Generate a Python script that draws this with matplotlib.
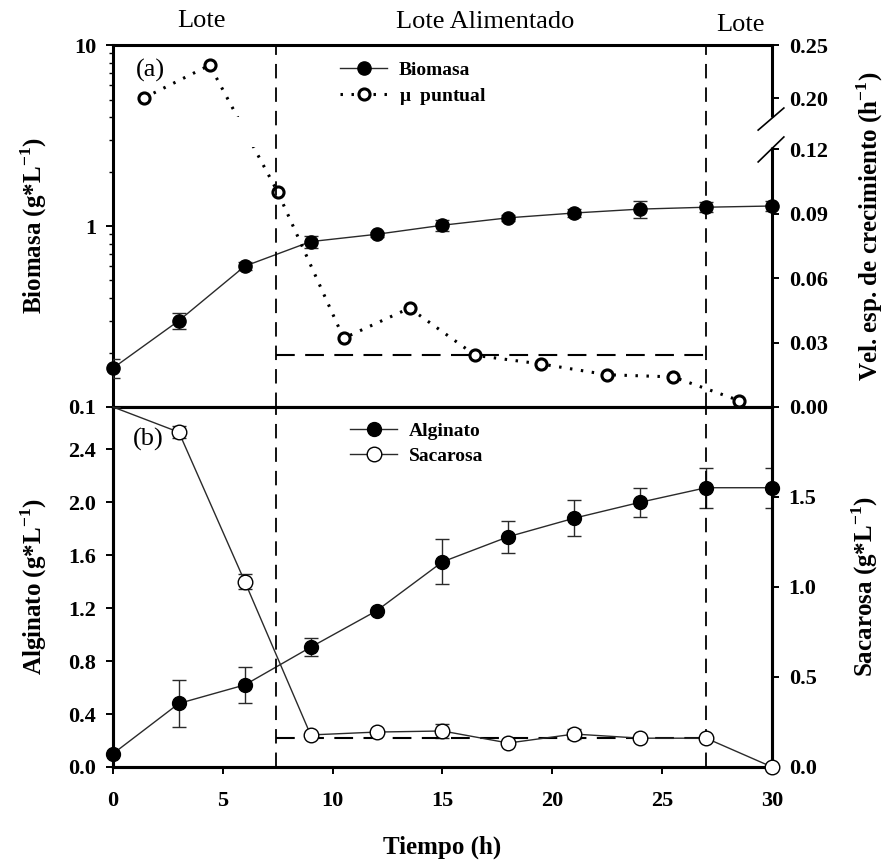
import matplotlib
matplotlib.use("Agg")
import matplotlib.pyplot as plt
import numpy as np
from matplotlib.lines import Line2D
from matplotlib.patches import Rectangle

plt.rcParams['font.family'] = ['Liberation Serif', 'DejaVu Serif']
plt.rcParams['mathtext.fontset'] = 'custom'
plt.rcParams['mathtext.rm'] = 'Liberation Serif:bold'
plt.rcParams['mathtext.bf'] = 'Liberation Serif:bold'

# --- data ---
t = [0, 3, 6, 9, 12, 15, 18, 21, 24, 27, 30]
biomasa = [0.164, 0.30, 0.60, 0.82, 0.90, 1.01, 1.11, 1.18, 1.24, 1.27, 1.29]
biomasa_err = [0.02, 0.03, 0.03, 0.06, 0.03, 0.07, 0.04, 0.06, 0.13, 0.08, 0.08]

t_mu = [1.4, 4.4, 7.5, 10.5, 13.5, 16.5, 19.5, 22.5, 25.5, 28.5]
mu = [0.200, 0.231, 0.100, 0.032, 0.046, 0.024, 0.020, 0.015, 0.014, 0.003]

alginato = [0.10, 0.48, 0.62, 0.905, 1.18, 1.55, 1.74, 1.88, 2.00, 2.11, 2.11]
alginato_err = [0.0, 0.18, 0.135, 0.07, 0.0, 0.17, 0.12, 0.135, 0.11, 0.15, 0.15]

sacarosa = [2.0, 1.86, 1.03, 0.178, 0.194, 0.20, 0.133, 0.183, 0.16, 0.16, 0.0]
sacarosa_err = [0.0, 0.035, 0.04, 0.0, 0.0, 0.04, 0.0, 0.03, 0.0, 0.0, 0.0]

t_inicio, t_fin = 7.4, 27.0     # fed-batch phase limits
mu_medio = 0.024                # mean mu in fed-batch
sac_medio = 0.16                # mean sucrose in fed-batch

# broken right axis of panel (a): 0-0.12 then 0.20-0.25
mu_knots = [0.0, 0.12, 0.20, 0.25]
px_knots = [0.0, 258.0, 309.0, 362.0]


def fwd(v):
    v = np.asarray(v, float)
    out = np.interp(v, mu_knots, px_knots)
    out = np.where(v < 0, v * 2150.0, out)
    out = np.where(v > 0.25, 362.0 + (v - 0.25) * 1060.0, out)
    return out


def inv(p):
    p = np.asarray(p, float)
    out = np.interp(p, px_knots, mu_knots)
    out = np.where(p < 0, p / 2150.0, out)
    out = np.where(p > 362.0, 0.25 + (p - 362.0) / 1060.0, out)
    return out


fig = plt.figure(figsize=(8.84, 8.61), dpi=100)
ax1 = fig.add_axes([0.1278, 0.5273, 0.7455, 0.4204])
ax2 = fig.add_axes([0.1278, 0.1092, 0.7455, 0.4181], sharex=ax1)
ax1r = ax1.twinx()
ax2r = ax2.twinx()

lc = '#2a2a2a'
tick_kw = dict(direction='out', length=5, width=1.4, labelsize=16, pad=7)

# ---------- panel (a) ----------
l_bio, = ax1.plot(t, biomasa, '-o', color=lc, lw=1.0, ms=9.5, mfc='black',
                  mec='black', clip_on=False, zorder=4, label='Biomasa')
ax1.errorbar(t, biomasa, yerr=biomasa_err, fmt='none', ecolor=lc, elinewidth=1,
             capsize=5, capthick=1, zorder=3)
ax1.set_yscale('log')
ax1.set_ylim(0.1, 10)
ax1.set_yticks([0.1, 1, 10])
ax1.set_yticklabels(['0.1', '1', '10'])
ax1.set_ylabel(r'Biomasa (g*L$^{-1}$)', fontsize=18, fontweight='bold', labelpad=14)
ax1.tick_params(axis='y', which='major', **tick_kw)
ax1.tick_params(axis='y', which='minor', direction='out', length=3, width=1)
ax1.tick_params(axis='x', which='both', bottom=False, labelbottom=False)

ax1r.set_yscale('function', functions=(fwd, inv))
ax1r.set_ylim(0, 0.25)
ax1r.set_yticks([0.0, 0.03, 0.06, 0.09, 0.12, 0.20, 0.25])
ax1r.set_yticklabels(['0.00', '0.03', '0.06', '0.09', '0.12', '0.20', '0.25'])
ax1r.yaxis.set_minor_locator(matplotlib.ticker.NullLocator())
ax1r.tick_params(axis='y', **tick_kw)
ax1r.set_ylabel(r'Vel. esp. de crecimiento (h$^{-1}$)', fontsize=18,
                fontweight='bold', labelpad=19)

l_mu, = ax1r.plot(t_mu, mu, linestyle=(0, (0.8, 2.8)), color='black', lw=2.2,
                  marker='o', ms=8, mfc='white', mec='black', mew=2.2,
                  clip_on=False, zorder=2, label=r'$\mathregular{\mu}$  puntual')
# gap of the broken axis (inside the frame only)
ax1r.add_patch(Rectangle((0.004, 0.718), 0.985, 0.083, transform=ax1r.transAxes,
                         facecolor='white', edgecolor='none', zorder=2.5))
ax1r.plot([t_inicio, t_fin], [mu_medio, mu_medio], color='black', lw=1.5,
          dashes=(9, 5), zorder=3)
for xv in (t_inicio, t_fin):
    ax1r.axvline(xv, color='black', lw=1.3, dashes=(8, 5), zorder=3)

for sp in ('top', 'bottom', 'left'):
    ax1.spines[sp].set_linewidth(2.2)
for sp in ax1r.spines.values():
    sp.set_visible(False)
ax1.spines['right'].set_visible(False)
# right spine with break marks
for y0, y1 in ((0.0, 0.718), (0.801, 1.0)):
    ax1r.add_line(Line2D([1, 1], [y0, y1], transform=ax1r.transAxes, color='black',
                         lw=2.2, clip_on=False, solid_capstyle='butt', zorder=5))
for y0, y1 in ((0.765, 0.826), (0.677, 0.746)):
    ax1r.add_line(Line2D([0.979, 1.018], [y0, y1], transform=ax1r.transAxes,
                         color='black', lw=1.2, clip_on=False, zorder=5))

ax1r.legend(handles=[l_bio, l_mu], loc='upper left', bbox_to_anchor=(0.345, 0.955),
            frameon=False, handlelength=2.4, handletextpad=0.6,
            labelspacing=0.35, borderpad=0, borderaxespad=0,
            prop={'weight': 'bold', 'size': 14})
ax1.text(0.035, 0.93, '(a)', transform=ax1.transAxes, fontsize=19, va='center')

# ---------- panel (b) ----------
l_alg, = ax2.plot(t, alginato, '-o', color=lc, lw=1.0, ms=10, mfc='black',
                  mec='black', clip_on=False, zorder=4, label='Alginato')
ax2.errorbar(t, alginato, yerr=alginato_err, fmt='none', ecolor=lc, elinewidth=1,
             capsize=5, capthick=1, zorder=3)
ax2.set_ylim(0, 2.72)
ax2.set_yticks([0.0, 0.4, 0.8, 1.2, 1.6, 2.0, 2.4])
ax2.set_yticklabels(['0.0', '0.4', '0.8', '1.2', '1.6', '2.0', '2.4'])
ax2.set_ylabel(r'Alginato (g*L$^{-1}$)', fontsize=18, fontweight='bold', labelpad=14)
ax2.tick_params(axis='y', **tick_kw)
ax2.tick_params(axis='x', direction='out', length=5, width=1.4, labelsize=16, pad=12)
ax2.set_xlim(0, 30)
ax2.set_xticks([0, 5, 10, 15, 20, 25, 30])
ax2.set_xlabel('Tiempo (h)', fontsize=18, fontweight='bold', labelpad=18)

l_sac, = ax2r.plot(t, sacarosa, '-o', color=lc, lw=1.0, ms=10.5, mfc='white',
                   mec='black', mew=1.0, markevery=list(range(1, len(t))),
                   clip_on=False, zorder=4, label='Sacarosa')
ax2r.errorbar(t, sacarosa, yerr=sacarosa_err, fmt='none', ecolor=lc, elinewidth=1,
              capsize=5, capthick=1, zorder=3)
ax2r.set_ylim(0, 2.0)
ax2r.set_yticks([0.0, 0.5, 1.0, 1.5])
ax2r.set_yticklabels(['0.0', '0.5', '1.0', '1.5'])
ax2r.tick_params(axis='y', **tick_kw)
ax2r.set_ylabel(r'Sacarosa (g*L$^{-1}$)', fontsize=18, fontweight='bold', labelpad=24)
ax2r.plot([t_inicio, t_fin], [sac_medio, sac_medio], color='black', lw=1.5,
          dashes=(9, 5), zorder=3)
for xv in (t_inicio, t_fin):
    ax2r.axvline(xv, color='black', lw=1.3, dashes=(8, 5), zorder=3)

for a in (ax2, ax2r):
    for sp in a.spines.values():
        sp.set_linewidth(2.2)

ax2r.legend(handles=[l_alg, l_sac], loc='upper left', bbox_to_anchor=(0.36, 0.957),
            frameon=False, handlelength=2.4, handletextpad=0.6,
            labelspacing=0.35, borderpad=0, borderaxespad=0,
            prop={'weight': 'bold', 'size': 14})
ax2.text(0.03, 0.91, '(b)', transform=ax2.transAxes, fontsize=19, va='center')

for lab in ax1.get_yticklabels() + ax1r.get_yticklabels() + ax2.get_yticklabels() \
        + ax2r.get_yticklabels() + ax2.get_xticklabels():
    lab.set_fontweight('bold')

# phase headers
fig.text(201 / 884, 1 - 21 / 861, 'Lote', fontsize=19, ha='center', va='center')
fig.text(485 / 884, 1 - 22 / 861, 'Lote Alimentado', fontsize=19, ha='center', va='center')
fig.text(740 / 884, 1 - 25 / 861, 'Lote', fontsize=19, ha='center', va='center')

fig.savefig('out.png', dpi=100)
